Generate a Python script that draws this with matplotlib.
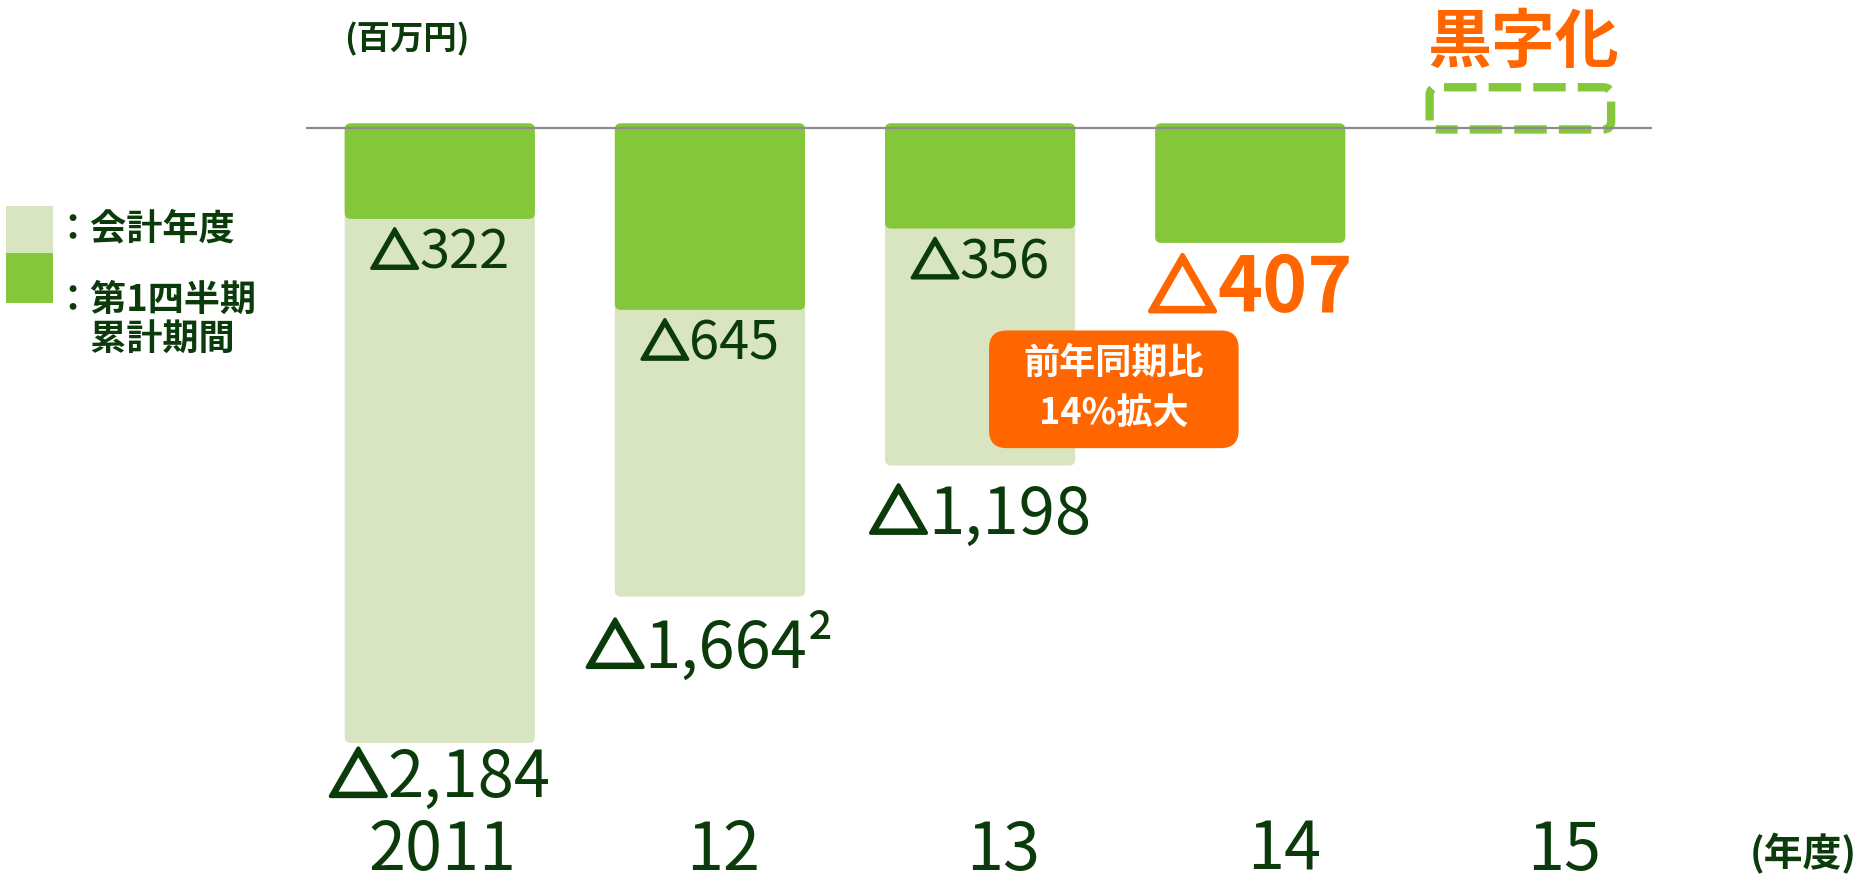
import numpy as np
import matplotlib
matplotlib.use('Agg')
import matplotlib.pyplot as plt
import matplotlib.patheffects as pe
from matplotlib.patches import FancyBboxPatch, Rectangle
from matplotlib.offsetbox import TextArea, HPacker, AnnotationBbox

plt.rcParams['font.family'] = ['Noto Sans CJK JP', 'DejaVu Sans']

# Data (百万円)
years = ['2011', '12', '13', '14', '15']
annual = [-2184, -1664, -1198]          # 会計年度
q1 = [-322, -645, -356, -407]           # 第1四半期累計期間
annual_labels = ['2,184', '1,664²', '1,198']
q1_labels = ['322', '645', '356', '407']

# Colours
light_green = '#d9e4c0'
green = '#85c73a'
dark = '#0b3b0b'
orange = '#ff6600'

W, H = 1864, 882
fig = plt.figure(figsize=(W / 100, H / 100), dpi=100)
ax = fig.add_axes([0, 0, 1, 1])
x0, x1 = -1.628, 5.272
y0, y1 = -2678, 456
ax.set_xlim(x0, x1)
ax.set_ylim(y0, y1)
ax.axis('off')

# data units per pixel, used for rounded corners
ux = (x1 - x0) / W
uy = (y1 - y0) / H
aspect = uy / ux
bar_w = 0.704


def rbar(x, top, bottom, fc, z, **kw):
    p = FancyBboxPatch((x - bar_w / 2, bottom), bar_w, top - bottom,
                       boxstyle=f'round,pad=0,rounding_size={6 * ux}',
                       mutation_aspect=aspect, fc=fc, zorder=z, **kw)
    ax.add_patch(p)


def tri_label(x, y, num, size, color, weight, dy_pt):
    # △ (minus sign) drawn heavier than the digits, as in the original
    tri = TextArea('△', textprops=dict(fontsize=size * 0.9, color=color, fontweight='bold',
                                        path_effects=[pe.withStroke(linewidth=size * 0.06,
                                                                    foreground=color)]))
    n = TextArea(num, textprops=dict(fontsize=size, color=color, fontweight=weight))
    pack = HPacker(children=[tri, n], align='baseline', pad=0, sep=0)
    ab = AnnotationBbox(pack, (x, y), xybox=(0, dy_pt), boxcoords='offset points',
                        frameon=False, box_alignment=(0.5, 0.5), zorder=4)
    ax.add_artist(ab)


top = 5 * uy
# annual bars first, Q1 on top
for i, v in enumerate(annual):
    rbar(i, top, v, light_green, 2, ec='none')
for i, v in enumerate(q1):
    rbar(i, top, v, green, 3, ec='none')

# 2015: dashed placeholder box (黒字化)
box = FancyBboxPatch((4 - 0.672 / 2, -4), 0.672, 150,
                     boxstyle=f'round,pad=0,rounding_size={8 * ux}',
                     mutation_aspect=aspect, fc='none', ec=green, lw=6,
                     linestyle=(1.5, (3.9, 1.45)), zorder=3)
ax.add_patch(box)

# baseline
ax.hlines(0, -0.497, 4.488, color='#8c8c8c', lw=1.6, zorder=5)

# value labels
annual_gap = [30, 43, 42]   # display px below bar end
for i, (v, lab) in enumerate(zip(annual, annual_labels)):
    tri_label(i, v, lab, 47, dark, 'normal', -annual_gap[i] * 0.856)
for i, (v, lab) in enumerate(zip(q1, q1_labels)):
    if i < 3:
        tri_label(i, v, lab, 39, dark, 'normal', -29 * 0.856)
    else:
        tri_label(i, v, lab, 55, orange, 'bold', -39 * 0.856)

# year labels
for i, y in enumerate(years):
    xpos = i * 1.038 + 0.01
    ax.text(xpos, 0.035, y, transform=ax.get_xaxis_transform(), ha='center', va='center',
            fontsize=48, color=dark)
ax.text(0.9675, 0.032, '(年度)', transform=ax.transAxes, ha='center', va='center',
        fontsize=28, fontweight='bold', color=dark)

# unit
ax.text(0.218, 0.9555, '(百万円)', transform=ax.transAxes, ha='center', va='center',
        fontsize=24, fontweight='bold', color=dark)

# 黒字化
ax.text(0.817, 0.9515, '黒字化', transform=ax.transAxes, ha='center', va='center',
        fontsize=46, fontweight='bold', color=orange)

# callout
cb = FancyBboxPatch((0.5306, 0.4919), 0.6645 - 0.5306, 0.6253 - 0.4919,
                    boxstyle='round,pad=0,rounding_size=0.0095', mutation_aspect=W / H,
                    transform=ax.transAxes, fc=orange, ec='none', zorder=6)
ax.add_patch(cb)
ax.text(0.5976, 0.5593, '前年同期比\n14%拡大', transform=ax.transAxes, ha='center', va='center',
        fontsize=26, fontweight='bold', color='white', linespacing=1.45, zorder=7)

# legend
ax.add_patch(Rectangle((0.0032, 0.713), 0.0255, 0.054, transform=ax.transAxes,
                       fc=light_green, ec='none'))
ax.add_patch(Rectangle((0.0032, 0.656), 0.0255, 0.057, transform=ax.transAxes,
                       fc=green, ec='none'))
ax.text(0.029, 0.740, '：会計年度', transform=ax.transAxes, ha='left', va='center',
        fontsize=26, fontweight='bold', color=dark)
ax.text(0.029, 0.681, '：第1四半期\n\u3000累計期間', transform=ax.transAxes, ha='left', va='top',
        fontsize=26, fontweight='bold', color=dark, linespacing=1.1)

fig.savefig('out.png', dpi=100)
